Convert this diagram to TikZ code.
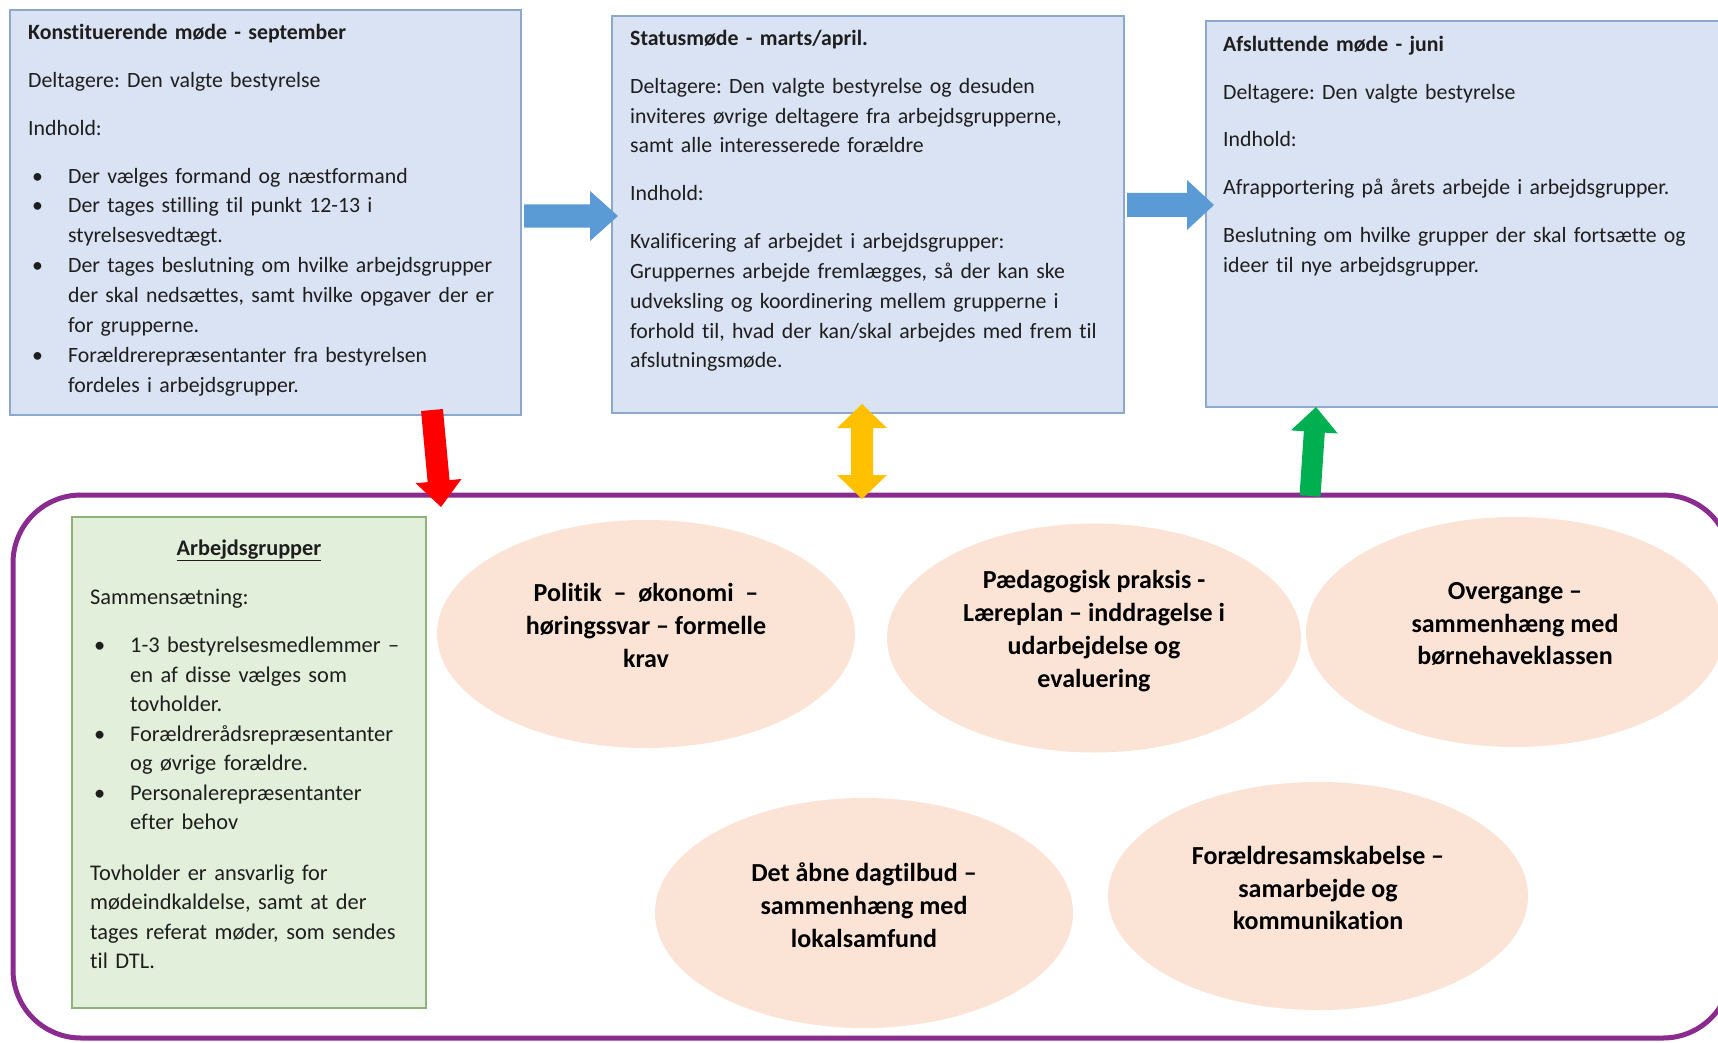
\documentclass[tikz,border=0pt]{standalone}
\usepackage{fontspec}
\setmainfont{Carlito}[Ligatures={NoCommon}]
\frenchspacing
\usetikzlibrary{calc,shapes.geometric}
\definecolor{boxfill}{HTML}{DAE3F3}
\definecolor{boxline}{HTML}{8EA8CC}
\definecolor{grnfill}{HTML}{E2EFDA}
\definecolor{grnline}{HTML}{8DB27B}
\definecolor{ellfill}{HTML}{FBE4D5}
\definecolor{purp}{HTML}{8A2B8F}
\definecolor{arrblue}{HTML}{5B9BD5}
\definecolor{arrred}{HTML}{FF0000}
\definecolor{arryel}{HTML}{FFC000}
\definecolor{arrgrn}{HTML}{00B050}
\definecolor{txt}{HTML}{1E1E1E}
\newcommand\mybul{\makebox[40pt][l]{\hspace*{4pt}\textbullet}}
\newcommand\myind{\hspace*{40pt}}
% color, start, end, shaft half width, head half width, head length
\newcommand\blockarr[6]{%
  \coordinate (hb) at ($(#3)!#6!(#2)$);
  \fill[#1] ($(#2)!#4!90:(#3)$) -- ($(hb)!#4!90:(#3)$) -- ($(hb)!#5!90:(#3)$) -- (#3)
    -- ($(hb)!#5!-90:(#3)$) -- ($(hb)!#4!-90:(#3)$) -- ($(#2)!#4!-90:(#3)$) -- cycle;}
\newcommand\dblarr[6]{%
  \coordinate (hb) at ($(#3)!#6!(#2)$);
  \coordinate (ha) at ($(#2)!#6!(#3)$);
  \fill[#1] (#2) -- ($(ha)!#5!-90:(#3)$) -- ($(ha)!#4!-90:(#3)$) -- ($(hb)!#4!-90:(#3)$)
    -- ($(hb)!#5!-90:(#3)$) -- (#3) -- ($(hb)!#5!90:(#3)$) -- ($(hb)!#4!90:(#3)$)
    -- ($(ha)!#4!90:(#3)$) -- ($(ha)!#5!90:(#3)$) -- cycle;}
\begin{document}
\begin{tikzpicture}[x=1pt,y=-1pt,
  mbox/.style={draw=boxline, fill=boxfill, line width=1.2pt, inner sep=0pt, outer sep=0pt, anchor=north west},
  gbox/.style={draw=grnline, fill=grnfill, line width=1.2pt, inner sep=0pt, outer sep=0pt, anchor=north west},
  body/.style={anchor=base west, inner sep=0pt, align=left, text=txt, text width=500pt,
    font=\fontsize{21.8}{29.9}\selectfont},
  oval/.style={ellipse, fill=ellfill, draw=none, inner sep=0pt, outer sep=0pt},
  ovaltext/.style={align=center, text=black, inner sep=0pt, font=\bfseries\fontsize{26}{32.8}\selectfont},
  frame/.style={draw=purp, line width=5pt, rounded corners=68pt, inner sep=0pt, outer sep=0pt, anchor=north west}]
\clip (0,0) rectangle (1718,1043);
\fill[white] (0,0) rectangle (1718,1043);

% meeting boxes
\node[mbox, minimum width=511pt, minimum height=405pt] (b1) at (10,10) {};
\node[mbox, minimum width=512pt, minimum height=397pt] (b2) at (612,16) {};
\node[mbox, minimum width=540pt, minimum height=386pt] (b3) at (1206,21) {};

\node[body] (t1) at ($(b1.north west)+(18,30)$) {\textbf{Konstituerende møde - september}\\[17.8pt]
Deltagere: Den valgte bestyrelse\\[17.8pt]
Indhold:\\[17.8pt]
\mybul Der vælges formand og næstformand\\
\mybul Der tages stilling til punkt 12-13 i\\
\myind styrelsesvedtægt.\\
\mybul Der tages beslutning om hvilke arbejdsgrupper\\
\myind der skal nedsættes, samt hvilke opgaver der er\\
\myind for grupperne.\\
\mybul Forældrerepræsentanter fra bestyrelsen\\
\myind fordeles i arbejdsgrupper.};

\node[body] (t2) at ($(b2.north west)+(18,29.5)$) {\textbf{Statusmøde - marts/april.}\\[17.8pt]
Deltagere: Den valgte bestyrelse og desuden\\
inviteres øvrige deltagere fra arbejdsgrupperne,\\
samt alle interesserede forældre\\[17.8pt]
Indhold:\\[17.8pt]
Kvalificering af arbejdet i arbejdsgrupper:\\
Gruppernes arbejde fremlægges, så der kan ske\\
udveksling og koordinering mellem grupperne i\\
forhold til, hvad der kan/skal arbejdes med frem til\\
afslutningsmøde.};

\node[body] (t3) at ($(b3.north west)+(17,30.5)$) {\textbf{Afsluttende møde - juni}\\[17.8pt]
Deltagere: Den valgte bestyrelse\\[17.8pt]
Indhold:\\[17.8pt]
Afrapportering på årets arbejde i arbejdsgrupper.\\[17.8pt]
Beslutning om hvilke grupper der skal fortsætte og\\
ideer til nye arbejdsgrupper.};

% working-group frame
\node[frame, minimum width=1718pt, minimum height=543pt] (fr) at (13,495) {};

\node[gbox, minimum width=354pt, minimum height=491pt] (g) at (72,517) {};
\node[anchor=base, inner sep=0pt, text=txt, font=\bfseries\fontsize{22.3}{29.7}\selectfont] (gt)
  at ($(g.north)+(0,38.5)$) {\underline{Arbejdsgrupper}};
\node[body, font=\fontsize{22.4}{29.5}\selectfont] (gb) at ($(g.north west)+(18,87.5)$) {Sammensætning:\\[18.5pt]
\mybul 1-3 bestyrelsesmedlemmer –\\
\myind en af disse vælges som\\
\myind tovholder.\\
\mybul Forældrerådsrepræsentanter\\
\myind og øvrige forældre.\\
\mybul Personalerepræsentanter\\
\myind efter behov\\[21pt]
Tovholder er ansvarlig for\\
mødeindkaldelse, samt at der\\
tages referat møder, som sendes\\
til DTL.};

% topic ellipses
\node[oval, minimum width=418pt, minimum height=228pt] (e1) at (646,634) {};
\node[oval, minimum width=414pt, minimum height=229pt] (e2) at (1094,638) {};
\node[oval, minimum width=418pt, minimum height=230pt] (e3) at (1515,632) {};
\node[oval, minimum width=418pt, minimum height=230pt] (e4) at (864,913) {};
\node[oval, minimum width=420pt, minimum height=228pt] (e5) at (1318,896) {};

\node[ovaltext] (o1) at ($(e1.center)+(0,-8.5)$) {Politik\ \ –\ \ økonomi\ \ –\\ høringssvar – formelle\\ krav};
\node[ovaltext] (o2) at ($(e2.center)+(0,-7)$) {Pædagogisk praksis -\\ Læreplan – inddragelse i\\ udarbejdelse og\\ evaluering};
\node[ovaltext] (o3) at ($(e3.center)+(0,-8)$) {Overgange –\\ sammenhæng med\\ børnehaveklassen};
\node[ovaltext] (o4) at ($(e4.center)+(0,-8)$) {Det åbne dagtilbud –\\ sammenhæng med\\ lokalsamfund};
\node[ovaltext] (o5) at ($(e5.center)+(0,-8)$) {Forældresamskabelse –\\ samarbejde og\\ kommunikation};

% block arrows between the boxes
\coordinate (a1s) at ($(b1.north east)+(3,206)$);
\coordinate (a1e) at ($(b2.north west)+(6,200)$);
\blockarr{arrblue}{a1s}{a1e}{11.5pt}{25pt}{28pt}
\coordinate (a2s) at ($(b2.north east)+(3,189)$);
\coordinate (a2e) at ($(b3.north west)+(8,184)$);
\blockarr{arrblue}{a2s}{a2e}{12pt}{25pt}{27pt}

% arrows to and from the working groups
\coordinate (rs) at ($(b1.south west)+(422,-5)$);
\coordinate (re) at ($(fr.north west)+(428,12)$);
\blockarr{arrred}{rs}{re}{11pt}{23pt}{26pt}
\coordinate (ys) at ($(b2.south west)+(250,-9)$);
\coordinate (ye) at ($(fr.north west)+(849,4)$);
\dblarr{arryel}{ys}{ye}{11pt}{25pt}{24pt}
\coordinate (gs) at ($(fr.north west)+(1297,1)$);
\coordinate (ge) at ($(b3.south west)+(110,0)$);
\blockarr{arrgrn}{gs}{ge}{10.5pt}{23.5pt}{25pt}
\end{tikzpicture}
\end{document}
